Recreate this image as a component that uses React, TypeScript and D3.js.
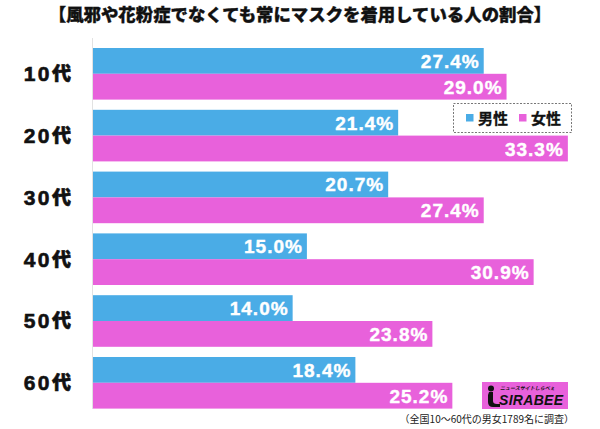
import React from "react";
import * as d3 from "d3";

const categories = ["10代", "20代", "30代", "40代", "50代", "60代"];
const male = [27.4, 21.4, 20.7, 15.0, 14.0, 18.4];
const female = [29.0, 33.3, 27.4, 30.9, 23.8, 25.2];
const seriesNames = ["男性", "女性"];
const seriesColors = ["#4aace6", "#e861db"];
const title = "【風邪や花粉症でなくても常にマスクを着用している人の割合】";
const footnote = "（全国10～60代の男女1789名に調査）";

const W = 600;
const H = 429;

export default function App() {
  const x = d3.scaleLinear().domain([0, 35]).range([93, 93 + 35 * 14.26]);
  const y = d3
    .scaleBand<string>()
    .domain(categories)
    .range([48, 408.6])
    .paddingInner(0.165)
    .paddingOuter(0);
  const inner = d3
    .scaleBand<string>()
    .domain(seriesNames)
    .range([0, y.bandwidth()])
    .padding(0);
  const series = [male, female];
  const font = "'Liberation Sans', Arial, sans-serif";
  const jp = "'Noto Sans CJK JP', sans-serif";

  return (
    <svg
      width={W}
      height={H}
      style={{ position: "absolute", left: 0, top: 0, background: "#fff" }}
    >
      <rect x={0} y={0} width={W} height={H} fill="#fff" />
      <text
        x={300}
        y={21}
        textAnchor="middle"
        fontFamily={jp}
        fontWeight={900}
        fontSize={17.4}
        fill="#111"
        stroke="#111"
        strokeWidth={0.35}
      >
        {title}
      </text>
      <line x1={92.5} x2={92.5} y1={38} y2={409} stroke="#e2e2e2" strokeWidth={1} />
      {categories.map((c, i) => (
        <g key={c}>
          <text
            x={71}
            y={(y(c) as number) + y.bandwidth() / 2 + 7.5}
            textAnchor="end"
            fontFamily={jp}
            fontWeight={900}
            fontSize={19}
            fill="#111"
            stroke="#111"
            strokeWidth={0.6}
          >
            <tspan fontFamily={font} fontWeight={700} fontSize={21} letterSpacing={2.5}>
              {c.replace("代", "")}
            </tspan>
            代
          </text>
          {series.map((vals, s) => {
            const by = (y(c) as number) + (inner(seriesNames[s]) as number);
            const bw = x(vals[i]) - x(0);
            return (
              <g key={s}>
                <rect
                  x={x(0)}
                  y={by}
                  width={bw}
                  height={inner.bandwidth()}
                  fill={seriesColors[s]}
                />
                <text
                  x={x(vals[i]) - 4}
                  y={by + inner.bandwidth() / 2 + 7}
                  textAnchor="end"
                  fontFamily={font}
                  fontWeight={700}
                  fontSize={19}
                  letterSpacing={1}
                  fill="#fff"
                  stroke="#fff"
                  strokeWidth={0.4}
                >
                  {vals[i].toFixed(1)}%
                </text>
              </g>
            );
          })}
        </g>
      ))}
      {/* legend */}
      <rect
        x={453.5}
        y={103.5}
        width={118}
        height={29}
        fill="#fff"
        stroke="#777"
        strokeWidth={1}
        strokeDasharray="2,1.5"
      />
      {seriesNames.map((n, s) => (
        <g key={n} transform={`translate(${466 + s * 53},0)`}>
          <rect x={0} y={114} width={7.5} height={7.5} fill={seriesColors[s]} />
          <text
            x={12}
            y={123.5}
            fontFamily={jp}
            fontWeight={700}
            fontSize={15}
            fill="#111"
            stroke="#111"
            strokeWidth={0.3}
          >
            {n}
          </text>
        </g>
      ))}
      {/* logo */}
      <g>
        <rect x={482} y={382} width={86} height={27} fill="#e861db" />
        <circle cx={491} cy={388.5} r={3} fill="#111" />
        <path
          d="M489,392 L493,392 L493,401 Q493,404 497,404 L500,404 L500,407 L493,407 Q488,407 488,402 L488,395 Z"
          fill="#111"
        />
        <text
          x={500}
          y={390}
          fontFamily={jp}
          fontWeight={700}
          fontSize={5}
          fontStyle="italic"
          fill="#111"
        >
          ニュースサイトしらべぇ
        </text>
        <text
          x={499}
          y={405}
          fontFamily={font}
          fontWeight={700}
          fontStyle="italic"
          fontSize={14}
          fill="#111"
          letterSpacing={0.3}
        >
          SIRABEE
        </text>
      </g>
      <text
        x={574}
        y={423}
        textAnchor="end"
        fontFamily={jp}
        fontSize={10}
        fill="#222"
      >
        {footnote}
      </text>
    </svg>
  );
}
